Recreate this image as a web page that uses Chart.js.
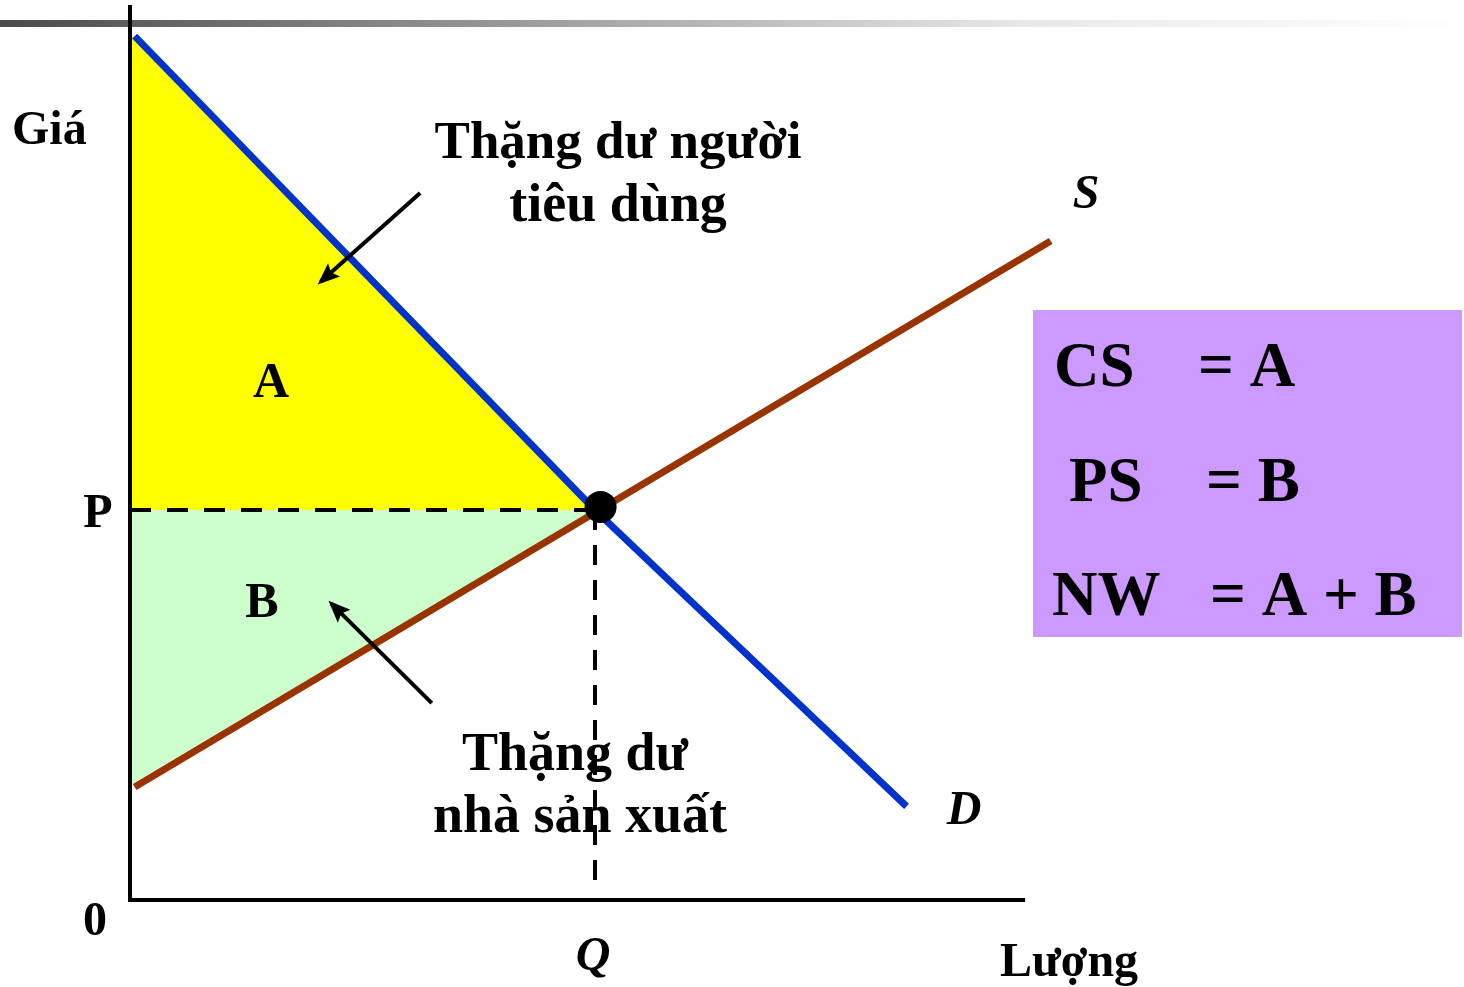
<!DOCTYPE html>
<html>
<head>
<meta charset="utf-8">
<script src="https://cdn.jsdelivr.net/npm/chart.js@4.4.1/dist/chart.umd.min.js"></script>
<style>
  body { margin: 0; background: #fff; }
  #wrap { width: 1464px; height: 987px; }
</style>
</head>
<body>
<div id="wrap"><canvas id="chart" width="1464" height="987"></canvas></div>
<script>
// quantity (Q) / price (P) in arbitrary units
const demandQ = [0.1, 10, 16.7];
const demandP = [22.15, 10, 2.4];
const supplyQ = [0.1, 19.8];
const supplyP = [2.9, 16.9];
const eqQ = 10;
const eqP = 10;
const dotQ = 10.12;
const dotP = 10.08;
const axisMaxQ = 19.25;
const axisMaxP = 22.95;
// arrows pointing at the surplus areas: [from, to]
const arrowCS = [[6.24, 18.13], [4.1, 15.85]];
const arrowPS = [[6.49, 5.05], [4.33, 7.6]];
const tickLabelP = 'P';
const tickLabelQ = 'Q';
const tickLabelZero = '0';
const boxLines = [['CS', '= A'], ['PS', '= B'], ['NW', '= A + B']];

const pts = (xs, ys) => xs.map((x, i) => ({ x: x, y: ys[i] }));
const SERIF = '"Liberation Serif", "Times New Roman", serif';

// labels, arrowheads and the side box
const decor = {
  id: 'decor',
  beforeDraw(chart) {
    const c = chart.ctx;
    // grey bar of the slide template
    const g = c.createLinearGradient(0, 0, 1464, 0);
    g.addColorStop(0, '#4a4a4a');
    g.addColorStop(0.3, '#8e8e8e');
    g.addColorStop(0.7, '#e8e8e8');
    g.addColorStop(1, '#ffffff');
    c.save();
    c.fillStyle = g;
    c.fillRect(0, 20, 1464, 7);
    c.restore();
  },
  afterDatasetsDraw(chart) {
    const c = chart.ctx;
    const xs = chart.scales.x, ys = chart.scales.y;
    // arrowheads
    chart.data.datasets.forEach((ds, i) => {
      if (!ds.arrow) return;
      const d = chart.getDatasetMeta(i).data;
      const a = d[d.length - 2], b = d[d.length - 1];
      const ang = Math.atan2(b.y - a.y, b.x - a.x);
      c.save();
      c.translate(b.x, b.y);
      c.rotate(ang);
      c.fillStyle = '#000';
      c.beginPath();
      c.moveTo(4, 0);
      c.lineTo(-18, -9);
      c.lineTo(-14, 0);
      c.lineTo(-18, 9);
      c.closePath();
      c.fill();
      c.restore();
    });

    c.save();
    c.fillStyle = '#000';
    c.textBaseline = 'alphabetic';
    const txt = (s, x, y, size, align, italic) => {
      c.font = (italic ? 'italic ' : '') + 'bold ' + size + 'px ' + SERIF;
      c.textAlign = align || 'left';
      c.fillText(s, x, y);
    };
    txt('Giá', 12, 144, 48);
    txt('Lượng', 1000, 976, 48);
    txt(tickLabelP, 98, ys.getPixelForValue(eqP) + 17, 48, 'center');
    txt(tickLabelZero, 95, 935, 48, 'center');
    txt(tickLabelQ, xs.getPixelForValue(eqQ) - 2, 970, 48, 'center', true);
    txt('S', 1086, 208, 48, 'center', true);
    txt('D', 964, 824, 48, 'center', true);
    txt('A', 271, 397, 50, 'center');
    txt('B', 262, 617, 50, 'center');
    txt('Thặng dư người', 618, 158, 53, 'center');
    txt('tiêu dùng', 618, 221, 54, 'center');
    txt('Thặng dư', 575, 770, 54, 'center');
    txt('nhà sản xuất', 580, 832, 54, 'center');

    // summary box
    c.fillStyle = '#cc99ff';
    c.fillRect(1033, 310, 429, 327);
    c.fillStyle = '#000';
    const lx = [[1054, 1198], [1069, 1206], [1052, 1210]];
    const ly = [386, 501, 615];
    boxLines.forEach((l, i) => {
      txt(l[0], lx[i][0], ly[i], 63);
      txt(l[1], lx[i][1], ly[i], 63);
    });
    c.restore();
  }
};

const ctx = document.getElementById('chart').getContext('2d');
new Chart(ctx, {
  type: 'line',
  data: {
    datasets: [
      { // consumer surplus
        data: pts([0, eqQ], [demandP[0] + 0.05, eqP]),
        borderWidth: 0, pointRadius: 0, order: 10,
        backgroundColor: '#ffff00', fill: { value: eqP }
      },
      { // producer surplus
        data: pts([0, eqQ], [supplyP[0] + 0.05, eqP]),
        borderWidth: 0, pointRadius: 0, order: 9,
        backgroundColor: '#ccffcc', fill: { value: eqP }
      },
      { // P dashed
        data: pts([0, eqQ], [eqP, eqP]), order: 8,
        borderColor: '#000', borderWidth: 4, borderDash: [21, 16], pointRadius: 0, fill: false
      },
      { // Q dashed
        data: pts([eqQ, eqQ], [eqP, 0.25]), order: 7,
        borderColor: '#000', borderWidth: 4, borderDash: [20, 15], pointRadius: 0, fill: false
      },
      { // demand
        data: pts(demandQ, demandP), order: 5,
        borderColor: '#0033cc', borderWidth: 7, pointRadius: 0, fill: false
      },
      { // supply
        data: pts(supplyQ, supplyP), order: 4,
        borderColor: '#993300', borderWidth: 7, pointRadius: 0, fill: false
      },
      { // axes
        data: pts([0, 0, axisMaxQ], [axisMaxP, 0, 0]), order: 6,
        borderColor: '#000', borderWidth: 4, pointRadius: 0, fill: false,
        borderJoinStyle: 'miter'
      },
      { // arrows
        data: pts(arrowCS.map(p => p[0]), arrowCS.map(p => p[1])), order: 3,
        borderColor: '#000', borderWidth: 4, pointRadius: 0, fill: false, arrow: true
      },
      {
        data: pts(arrowPS.map(p => p[0]), arrowPS.map(p => p[1])), order: 2,
        borderColor: '#000', borderWidth: 4, pointRadius: 0, fill: false, arrow: true
      },
      { // equilibrium
        data: [{ x: dotQ, y: dotP }], order: 1,
        showLine: false, pointRadius: 16, pointHoverRadius: 16, pointBackgroundColor: '#000',
        pointBorderColor: '#000', pointBorderWidth: 0, fill: false
      }
    ]
  },
  options: {
    responsive: false,
    animation: false,
    layout: { padding: 0, autoPadding: false },
    plugins: { legend: { display: false }, tooltip: { enabled: false } },
    elements: { line: { tension: 0, borderCapStyle: 'butt' } },
    scales: {
      x: { type: 'linear', display: false, min: -130 / 46.5, max: (1464 - 130) / 46.5 },
      y: { type: 'linear', display: false, min: -(987 - 900) / 39, max: 900 / 39 }
    }
  },
  plugins: [decor]
});
</script>
</body>
</html>
